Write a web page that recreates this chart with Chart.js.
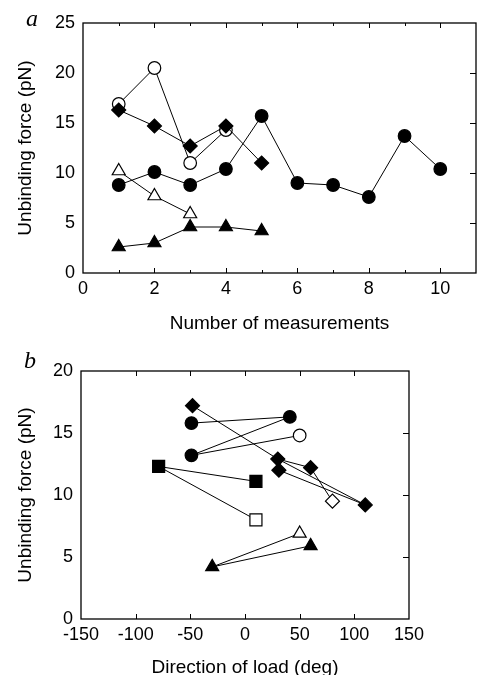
<!DOCTYPE html>
<html><head><meta charset="utf-8">
<script src="https://cdn.jsdelivr.net/npm/chart.js@4"></script>
<style>
html,body{margin:0;padding:0;background:#fff;overflow:hidden;width:477px;height:675px;position:relative;}
.wrap{position:absolute;left:0;width:477px;}
.lab{position:absolute;font-family:"Liberation Serif","DejaVu Serif",serif;font-style:italic;font-size:24px;line-height:24px;color:#000;}
</style></head><body>
<div class="wrap" style="top:0;height:340px;width:485px"><canvas id="ca"></canvas></div>
<div class="wrap" style="top:335px;height:350px"><canvas id="cb"></canvas></div>
<div class="lab" style="left:26px;top:6px">a</div>
<div class="lab" style="left:24px;top:348px">b</div>
<script>
// ---------- Panel a data ----------
const aMeasurements = [1,2,3,4,5,6,7,8,9,10];
const aOpenCircles    = [16.9, 20.5, 11.0, 14.3];
const aFilledDiamonds = [16.3, 14.7, 12.7, 14.7, 11.0];
const aFilledCircles  = [8.8, 10.1, 8.8, 10.4, 15.7, 9.0, 8.8, 7.6, 13.7, 10.4];
const aOpenTriangles  = [10.2, 7.7, 5.9];
const aFilledTriangles= [2.6, 3.0, 4.6, 4.6, 4.2];
const aXTicks = [0,2,4,6,8,10];
const aXMinor = [1,3,5,7,9];
const aYTicks = [0,5,10,15,20,25];

// ---------- Panel b data (direction deg, force pN) ----------
const bFilledCircles   = [[-49,15.8],[-49,13.2],[41,16.3]];
const bOpenCircles     = [[50,14.8]];
const bFilledDiamonds  = [[-48,17.2],[30,12.9],[31,12.0],[60,12.2],[110,9.2]];
const bOpenDiamonds    = [[80,9.5]];
const bFilledSquares   = [[-79,12.3],[10,11.1]];
const bOpenSquares     = [[10,8.0]];
const bFilledTriangles = [[-30,4.2],[60,5.9]];
const bOpenTriangles   = [[50,6.9]];
const bLinks = [
  [[-49,15.8],[41,16.3]],
  [[-49,13.2],[41,16.3]],
  [[-49,13.2],[50,14.8]],
  [[-48,17.2],[30,12.9]],
  [[30,12.9],[60,12.2]],
  [[30,12.9],[110,9.2]],
  [[31,12.0],[110,9.2]],
  [[60,12.2],[80,9.5]],
  [[-79,12.3],[10,11.1]],
  [[-79,12.3],[10,8.0]],
  [[-30,4.2],[50,6.9]],
  [[-30,4.2],[60,5.9]]
];
const bXTicks = [-150,-100,-50,0,50,100,150];
const bXInner = [-100,-50,0,50,100];
const bYTicks = [0,5,10,15,20];
const bYInner = [5,10,15];

Chart.defaults.font.family = "'Liberation Sans', Arial, sans-serif";
Chart.defaults.color = '#000';

const frameTicks = {
  id: 'frameTicks',
  beforeDatasetsDraw(chart, args, o) {
    const {ctx, chartArea:{left,right,top,bottom}, scales:{x,y}} = chart;
    ctx.save();
    ctx.strokeStyle = '#000';
    ctx.lineWidth = 1.3;
    ctx.strokeRect(left, top, right-left, bottom-top);
    ctx.lineWidth = 1;
    ctx.beginPath();
    (o.xMajor||[]).forEach(v => {
      const px = Math.round(x.getPixelForValue(v)) + 0.5;
      ctx.moveTo(px, bottom); ctx.lineTo(px, bottom-5);
      ctx.moveTo(px, top); ctx.lineTo(px, top+5);
    });
    (o.xMinor||[]).forEach(v => {
      const px = Math.round(x.getPixelForValue(v)) + 0.5;
      ctx.moveTo(px, bottom); ctx.lineTo(px, bottom-3);
      ctx.moveTo(px, top); ctx.lineTo(px, top+3);
    });
    (o.yRight||[]).forEach(v => {
      const py = Math.round(y.getPixelForValue(v)) + 0.5;
      ctx.moveTo(right, py); ctx.lineTo(right-6, py);
    });
    ctx.stroke();
    ctx.restore();
  }
};

function series(vals, xs) { return vals.map((v,i) => ({x: xs[i], y: v})); }
function pts(arr) { return arr.map(p => ({x:p[0], y:p[1]})); }
function ds(data, style, radius, filled, showLine) {
  return {
    data, showLine: !!showLine,
    borderColor: '#000', borderWidth: 1,
    pointStyle: style, pointRadius: radius,
    pointBackgroundColor: filled ? '#000' : '#fff',
    pointBorderColor: '#000', pointBorderWidth: 1.2
  };
}
const tickFont = {size: 18};
const titleFont = {size: 19};

function axes(xMin, xMax, xT, yMin, yMax, yT, yW, xH, xPad, yPad) {
  return {
    x: {
      type: 'linear', min: xMin, max: xMax,
      afterBuildTicks: s => { s.ticks = xT.map(v => ({value: v})); },
      afterFit: s => { s.height = xH; s.paddingLeft = 0; s.paddingRight = 0; },
      grid: {display: false, drawTicks: false}, border: {display: false},
      ticks: {font: tickFont, padding: 5, maxRotation: 0, autoSkip: false},
      title: {display: true, text: xPad.text, font: titleFont, padding: {top: 0, bottom: xPad.bottom}}
    },
    y: {
      type: 'linear', min: yMin, max: yMax,
      afterBuildTicks: s => { s.ticks = yT.map(v => ({value: v})); },
      afterFit: s => { s.width = yW; s.paddingTop = 0; s.paddingBottom = 0; },
      grid: {display: false, drawTicks: false}, border: {display: false},
      ticks: {font: tickFont, padding: 8, autoSkip: false},
      title: {display: true, text: 'Unbinding force (pN)', font: titleFont, padding: {top: yPad, bottom: 0}}
    }
  };
}

const common = {
  responsive: true, maintainAspectRatio: false, animation: false, events: [],
  plugins: {legend: {display: false}, tooltip: {enabled: false}}
};

new Chart(document.getElementById('ca'), {
  type: 'scatter',
  data: {datasets: [
    ds(series(aFilledDiamonds, aMeasurements), 'rectRot', 7, true, true),
    ds(series(aOpenCircles, aMeasurements), 'circle', 6.3, false, true),
    ds(series(aFilledCircles, aMeasurements), 'circle', 6.3, true, true),
    ds(series(aFilledTriangles, aMeasurements), 'triangle', 7.5, true, true),
    ds(series(aOpenTriangles, aMeasurements), 'triangle', 7.5, false, true)
  ]},
  options: Object.assign({}, common, {
    layout: {padding: {top: 23, right: 9, left: 0, bottom: 0}},
    scales: axes(0, 11, aXTicks, 0, 25, aYTicks, 83, 67, {text: 'Number of measurements', bottom: 5}, 14),
    plugins: Object.assign({}, common.plugins, {frameTicks: {xMajor: aXTicks.slice(1), xMinor: aXMinor, yRight: aYTicks.slice(1,5)}})
  }),
  plugins: [frameTicks]
});

const bDatasets = [
  ds(pts(bFilledCircles), 'circle', 6.3, true),
  ds(pts(bOpenCircles), 'circle', 6.3, false),
  ds(pts(bFilledDiamonds), 'rectRot', 7, true),
  ds(pts(bOpenDiamonds), 'rectRot', 7, false),
  ds(pts(bFilledSquares), 'rect', 8.5, true),
  ds(pts(bOpenSquares), 'rect', 8.5, false),
  ds(pts(bFilledTriangles), 'triangle', 7.5, true),
  ds(pts(bOpenTriangles), 'triangle', 7.5, false)
].concat(bLinks.map(l => Object.assign(ds(pts(l), 'circle', 0, true, true), {pointRadius: 0})));

new Chart(document.getElementById('cb'), {
  type: 'scatter',
  data: {datasets: bDatasets},
  options: Object.assign({}, common, {
    layout: {padding: {top: 36, right: 68, left: 0, bottom: 0}},
    scales: axes(-150, 150, bXTicks, 0, 20, bYTicks, 81, 66, {text: 'Direction of load (deg)', bottom: 6}, 14),
    plugins: Object.assign({}, common.plugins, {frameTicks: {xMajor: bXInner, xMinor: [], yRight: bYInner}})
  }),
  plugins: [frameTicks]
});
</script>
</body></html>
